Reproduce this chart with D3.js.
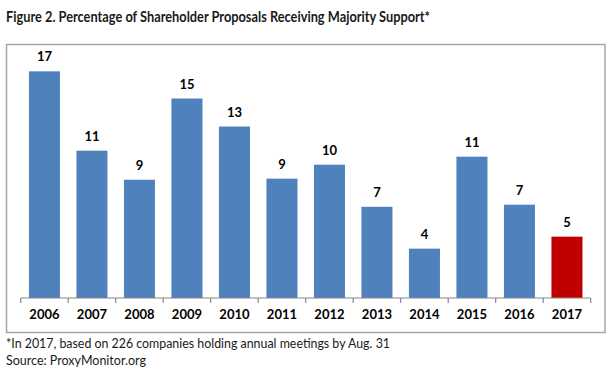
<!DOCTYPE html>
<html>
<head>
<meta charset="utf-8">
<script src="https://cdn.jsdelivr.net/npm/d3@7"></script>
<style>
  body { margin: 0; background: #fff; }
  text { font-family: Lato, "Open Sans", sans-serif; }
</style>
</head>
<body>
<svg id="chart" width="612" height="374"></svg>
<script>
var years = ['2006', '2007', '2008', '2009', '2010', '2011', '2012', '2013', '2014', '2015', '2016', '2017'];
var values = [17.0, 11.05, 8.87, 14.96, 12.86, 8.95, 10.0, 6.84, 3.7, 10.6, 7.0, 4.6];
var valueLabels = ['17', '11', '9', '15', '13', '9', '10', '7', '4', '11', '7', '5'];
var highlightYear = '2017';

var svg = d3.select('#chart');

var axisY = 298;
var x = d3.scaleBand()
    .domain(years)
    .range([20.7, 590.7])
    .paddingInner(0.347)
    .paddingOuter(0.1735);
var y = d3.scaleLinear()
    .domain([0, 18])
    .range([axisY, 58]);

// title
svg.append('text')
    .attr('x', 6)
    .attr('y', 22)
    .attr('textLength', 424)
    .attr('lengthAdjust', 'spacingAndGlyphs')
    .style('font-size', '15px')
    .style('font-weight', 'bold')
    .style('fill', '#1a1a1a')
    .text('Figure 2. Percentage of Shareholder Proposals Receiving Majority Support*');

// chart frame
svg.append('rect')
    .attr('x', 6.5)
    .attr('y', 44.5)
    .attr('width', 598.5)
    .attr('height', 288)
    .style('fill', 'none')
    .style('stroke', '#a6a6a6')
    .style('stroke-width', 1.5);

// bars
svg.selectAll('rect.bar')
    .data(years)
    .enter()
    .append('rect')
    .classed('bar', true)
    .attr('x', d => x(d))
    .attr('width', x.bandwidth())
    .attr('y', (d, i) => y(values[i]))
    .attr('height', (d, i) => axisY - y(values[i]))
    .style('fill', d => d === highlightYear ? '#c00000' : '#4f81bd');

// value labels
svg.selectAll('text.val')
    .data(years)
    .enter()
    .append('text')
    .classed('val', true)
    .attr('x', d => x(d) + x.bandwidth() / 2)
    .attr('y', (d, i) => y(values[i]) - 10)
    .attr('text-anchor', 'middle')
    .style('font-size', '13px')
    .style('font-weight', 'bold')
    .style('fill', '#000')
    .text((d, i) => valueLabels[i]);

// category axis, ticks between categories
var gap = x.step() * x.paddingInner() / 2;
var tickPos = years.map(d => x(d) - gap);
tickPos.push(x(years[years.length - 1]) + x.bandwidth() + gap);

var axis = svg.append('g').attr('transform', 'translate(0,' + axisY + ')');
axis.append('line')
    .attr('x1', tickPos[0])
    .attr('x2', tickPos[tickPos.length - 1])
    .style('stroke', '#868686')
    .style('stroke-width', 1.2);
axis.selectAll('line.tick')
    .data(tickPos)
    .enter()
    .append('line')
    .classed('tick', true)
    .attr('x1', d => d)
    .attr('x2', d => d)
    .attr('y1', 0)
    .attr('y2', 5)
    .style('stroke', '#868686')
    .style('stroke-width', 1.2);
axis.selectAll('text')
    .data(years)
    .enter()
    .append('text')
    .attr('x', d => x(d) + x.bandwidth() / 2)
    .attr('y', 21)
    .attr('text-anchor', 'middle')
    .style('font-size', '13px')
    .style('font-weight', 'bold')
    .style('fill', '#000')
    .text(d => d);

// footnotes
svg.append('text')
    .attr('x', 6)
    .attr('y', 348)
    .attr('textLength', 384)
    .attr('lengthAdjust', 'spacingAndGlyphs')
    .style('font-size', '12.5px')
    .style('fill', '#1a1a1a')
    .text('*In 2017, based on 226 companies holding annual meetings by Aug. 31');
svg.append('text')
    .attr('x', 6)
    .attr('y', 365)
    .style('font-size', '12.5px')
    .style('fill', '#1a1a1a')
    .text('Source: ProxyMonitor.org');
</script>
</body>
</html>
